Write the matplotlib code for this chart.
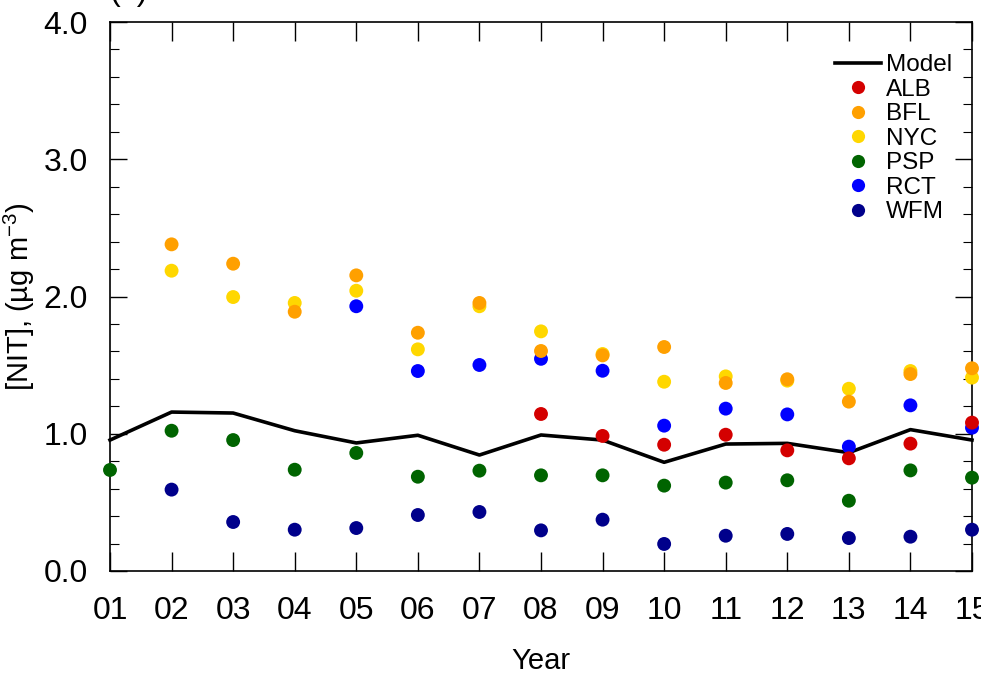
import matplotlib
matplotlib.use("Agg")
import matplotlib.pyplot as plt
from matplotlib.lines import Line2D
from matplotlib.ticker import MultipleLocator, FormatStrFormatter

plt.rcParams['font.family'] = ['Liberation Sans', 'DejaVu Sans']
plt.rcParams['mathtext.fontset'] = 'custom'
plt.rcParams['mathtext.rm'] = 'Liberation Sans'
plt.rcParams['mathtext.it'] = 'Liberation Sans'

years = list(range(1, 16))
year_labels = [f"{y:02d}" for y in years]

model = [0.954, 1.158, 1.151, 1.022, 0.933, 0.989, 0.845, 0.991, 0.954,
         0.792, 0.925, 0.930, 0.862, 1.030, 0.954]

alb_years = [8, 9, 10, 11, 12, 13, 14, 15]
alb = [1.144, 0.984, 0.920, 0.993, 0.879, 0.821, 0.928, 1.081]

bfl_years = list(range(2, 16))
bfl = [2.380, 2.239, 1.889, 2.154, 1.736, 1.953, 1.603, 1.571, 1.632,
       1.370, 1.397, 1.234, 1.435, 1.477]

nyc_years = list(range(2, 16))
nyc = [2.188, 1.996, 1.953, 2.042, 1.615, 1.929, 1.746, 1.581, 1.379,
       1.418, 1.387, 1.328, 1.457, 1.409]

psp_years = list(range(1, 16))
psp = [0.736, 1.022, 0.954, 0.738, 0.860, 0.687, 0.731, 0.697, 0.697,
       0.622, 0.644, 0.661, 0.512, 0.733, 0.680]

rct_years = list(range(5, 16))
rct = [1.929, 1.457, 1.501, 1.546, 1.459, 1.059, 1.183, 1.141, 0.906,
       1.207, 1.044]

wfm_years = list(range(2, 16))
wfm = [0.593, 0.357, 0.301, 0.313, 0.408, 0.430, 0.296, 0.374, 0.197,
       0.257, 0.270, 0.240, 0.250, 0.301]

sites = [
    ("ALB", alb_years, alb, "#d40000"),
    ("BFL", bfl_years, bfl, "#ffa000"),
    ("NYC", nyc_years, nyc, "#ffd700"),
    ("PSP", psp_years, psp, "#006400"),
    ("RCT", rct_years, rct, "#0000ff"),
    ("WFM", wfm_years, wfm, "#00008b"),
]
draw_order = ["PSP", "WFM", "RCT", "NYC", "BFL", "ALB"]

W, H = 981, 673
AX_L, AX_R, AX_T, AX_B = 110, 972, 22, 571
fig = plt.figure(figsize=(W / 100, H / 100), dpi=100)
ax = fig.add_axes([AX_L / W, (H - AX_B) / H, (AX_R - AX_L) / W, (AX_B - AX_T) / H])

ax.plot(years, model, color="black", lw=2.6, zorder=3, clip_on=False)
lookup = {s[0]: s for s in sites}
for name in draw_order:
    _, xs, ys, c = lookup[name]
    ax.scatter(xs, ys, s=100, color=c, edgecolors="none", zorder=4, clip_on=False)

ax.set_xlim(1, 15)
ax.set_ylim(0, 4)
ax.set_xticks(years)
ax.set_xticklabels(year_labels)
ax.yaxis.set_major_locator(MultipleLocator(1.0))
ax.yaxis.set_minor_locator(MultipleLocator(0.2))
ax.yaxis.set_major_formatter(FormatStrFormatter("%.1f"))

ax.tick_params(axis="x", which="major", direction="in", length=14, width=1.0,
               top=True, bottom=True, labelsize=23, pad=18)
ax.tick_params(axis="y", which="major", direction="in", length=12, width=1.0,
               left=True, right=True, labelsize=23, pad=16)
ax.tick_params(axis="y", which="minor", direction="in", length=6.5, width=0.8,
               left=True, right=True)
for sp in ax.spines.values():
    sp.set_linewidth(1.2)

ax.set_xlabel("Year", fontsize=21, labelpad=15)
ax.set_ylabel("[NIT], (µg m$^{-3}$)", fontsize=21)
ax.yaxis.set_label_coords(-(AX_L - 37) / (AX_R - AX_L), 0.5)

handles = [Line2D([0], [0], color="black", lw=2.6, label="Model")]
for name, _, _, c in sites:
    handles.append(Line2D([0], [0], ls="none", marker="o", markersize=9.5,
                          markerfacecolor=c, markeredgecolor="none", label=name))
ax.legend(handles=handles, loc="upper right", bbox_to_anchor=(0.997, 0.972),
          frameon=False, fontsize=17.5, handlelength=1.9, handletextpad=0.2,
          labelspacing=0.1, borderpad=0.2)

fig.text(AX_L / W, 1.0, "(c)", fontsize=23, ha="left", va="baseline")

fig.savefig("out.png", dpi=100)
